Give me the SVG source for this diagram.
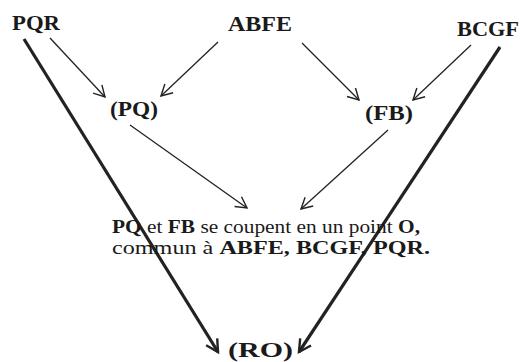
<svg xmlns="http://www.w3.org/2000/svg" width="521" height="362" viewBox="0 0 521 362">
<style>
text{font-family:'Liberation Serif','DejaVu Serif','Times New Roman',serif;fill:#1a1a1a}
.b{font-weight:bold}
.thin{stroke:#222;stroke-width:1.3;fill:none}
.thick{stroke:#222;stroke-width:3.2;fill:none}
</style>
<defs>
<marker id="a" markerWidth="14" markerHeight="14" refX="12" refY="7" orient="auto" markerUnits="userSpaceOnUse">
<path d="M1,1 L12,7 L1,13" fill="none" stroke="#222" stroke-width="1.4"/>
</marker>
<marker id="ab" markerWidth="16" markerHeight="16" refX="13" refY="8" orient="auto" markerUnits="userSpaceOnUse">
<path d="M1,1.5 L13,8 L1,14.5" fill="none" stroke="#222" stroke-width="2.4"/>
</marker>
</defs>
<rect width="521" height="362" fill="#fff"/>
<g id="connectors">
<line class="thin" x1="50" y1="38" x2="105" y2="97" marker-end="url(#a)"/>
<line class="thin" x1="218" y1="42" x2="161" y2="96" marker-end="url(#a)"/>
<line class="thin" x1="302" y1="43" x2="359" y2="100" marker-end="url(#a)"/>
<line class="thin" x1="471" y1="45" x2="413" y2="100" marker-end="url(#a)"/>
<line class="thin" x1="130" y1="125" x2="247" y2="208" marker-end="url(#a)"/>
<line class="thin" x1="388" y1="130" x2="301" y2="209" marker-end="url(#a)"/>
<line class="thick" x1="24" y1="39" x2="218" y2="352" marker-end="url(#ab)"/>
<line class="thick" x1="500" y1="47" x2="299" y2="352" marker-end="url(#ab)"/>
</g>
<g id="PQR"><text class="b" x="12" y="30" font-size="22" textLength="48" lengthAdjust="spacingAndGlyphs">PQR</text></g>
<g id="ABFE"><text class="b" x="228" y="31" font-size="22" textLength="64" lengthAdjust="spacingAndGlyphs">ABFE</text></g>
<g id="BCGF"><text class="b" x="457" y="36" font-size="22" textLength="62" lengthAdjust="spacingAndGlyphs">BCGF</text></g>
<g id="PQ"><text class="b" x="110" y="116" font-size="22" textLength="48" lengthAdjust="spacingAndGlyphs">(PQ)</text></g>
<g id="FB"><text class="b" x="365" y="120" font-size="22" textLength="48" lengthAdjust="spacingAndGlyphs">(FB)</text></g>
<g id="O">
<text x="112" y="233" font-size="18" textLength="308" lengthAdjust="spacingAndGlyphs"><tspan class="b">PQ</tspan> et <tspan class="b">FB</tspan> se coupent en un point  <tspan class="b">O,</tspan></text>
<text x="112" y="254" font-size="18" textLength="318" lengthAdjust="spacingAndGlyphs">commun  à <tspan class="b">ABFE, BCGF, PQR.</tspan></text>
</g>
<g id="RO"><text class="b" x="228" y="357" font-size="22" textLength="65" lengthAdjust="spacingAndGlyphs">(RO)</text></g>
</svg>
